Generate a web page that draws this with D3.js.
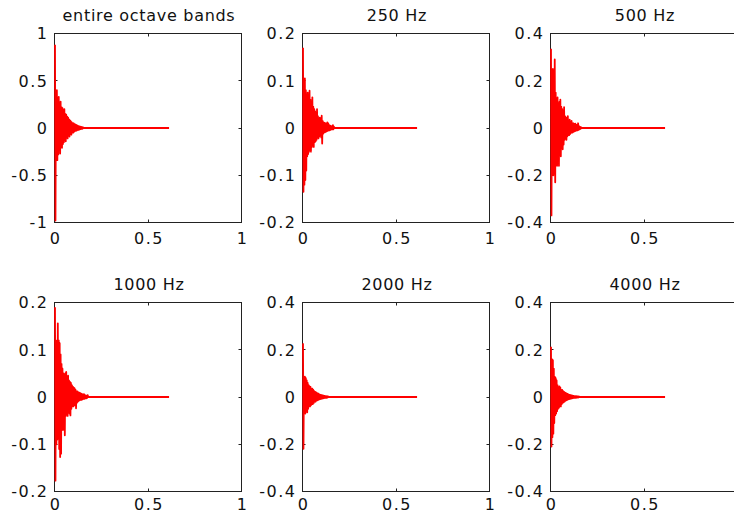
<!DOCTYPE html>
<html>
<head>
<meta charset="utf-8">
<script src="https://cdn.jsdelivr.net/npm/d3@7"></script>
<style>
  html, body { margin: 0; padding: 0; background: #fff; overflow: hidden; }
  svg { display: block; }
  .tick-label { font-family: "DejaVu Sans", sans-serif; font-size: 16px; letter-spacing: 1.5px; fill: #111; }
  .title { font-family: "DejaVu Sans", sans-serif; font-size: 16px; letter-spacing: 0.7px; fill: #111; }
</style>
</head>
<body>
<div id="chart"></div>
<script>
// sample spacing of the impulse responses (s) and where the flat tail stops
const dt = 0.0025;
const tailEnd = 0.61;

const titles = ['entire octave bands', '250 Hz', '500 Hz', '1000 Hz', '2000 Hz', '4000 Hz'];
const yDomains = [[-1, 1], [-0.2, 0.2], [-0.4, 0.4], [-0.2, 0.2], [-0.4, 0.4], [-0.4, 0.4]];
const yTickValues = [
  [-1, -0.5, 0, 0.5, 1],
  [-0.2, -0.1, 0, 0.1, 0.2],
  [-0.4, -0.2, 0, 0.2, 0.4],
  [-0.2, -0.1, 0, 0.1, 0.2],
  [-0.4, -0.2, 0, 0.2, 0.4],
  [-0.4, -0.2, 0, 0.2, 0.4]
];
const xTickValues = [0, 0.5, 1];

// impulse response samples
const bandAll = [0.88, -0.98, 0.38, -0.30, 0.40, -0.34, 0.31, -0.28, 0.33, -0.22, 0.26, -0.27, 0.28, -0.19, 0.22, -0.21,
  0.21, -0.17, 0.19, -0.15, 0.20, -0.13, 0.15, -0.14, 0.14, -0.10, 0.12, -0.11, 0.11, -0.08, 0.09, -0.09,
  0.08, -0.06, 0.07, -0.07, 0.06, -0.05, 0.05, -0.05, 0.05, -0.04, 0.04, -0.03, 0.035, -0.03, 0.03, -0.025,
  0.025, -0.02, 0.02, -0.02, 0.018, -0.015, 0.015, -0.012, 0.012, -0.01, 0.01, -0.008, 0.006, 0];
const band250 = [0.17, -0.135, 0.09, -0.12, 0.105, -0.11, 0.08, -0.09, 0.07, -0.06, 0.075, -0.055, 0.07, -0.05, 0.079, -0.045,
  0.06, -0.05, 0.05, -0.04, 0.065, -0.035, 0.045, -0.04, 0.04, -0.03, 0.035, -0.028, 0.03, -0.025, 0.04, -0.02,
  0.025, -0.022, 0.02, -0.018, 0.022, -0.015, 0.018, -0.02, 0.026, -0.033, 0.015, -0.012, 0.012, -0.01, 0.011, -0.009,
  0.01, -0.008, 0.009, -0.007, 0.012, -0.006, 0.01, -0.005, 0.006, -0.005, 0.005, -0.004, 0.004, -0.003, 0.004, -0.003,
  0.006, -0.003, 0.003, 0];
const band500 = [0.335, -0.37, 0.2, -0.15, 0.25, -0.2, 0.22, -0.18, 0.29, -0.23, 0.15, -0.12, 0.12, -0.16, 0.13, -0.1,
  0.1, -0.16, 0.11, -0.08, 0.12, -0.12, 0.09, -0.07, 0.08, -0.09, 0.06, -0.07, 0.088, -0.05, 0.05, -0.04,
  0.045, -0.05, 0.04, -0.035, 0.05, -0.03, 0.03, -0.03, 0.035, -0.025, 0.025, -0.02, 0.03, -0.02, 0.02, -0.018,
  0.02, -0.015, 0.016, -0.014, 0.018, -0.012, 0.012, -0.01, 0.014, -0.01, 0.02, -0.008, 0.008, -0.006, 0.005, -0.004,
  0.004, 0];
const band1000 = [0.19, -0.177, 0.12, -0.1, 0.11, -0.09, 0.156, -0.08, 0.12, -0.11, 0.114, -0.127, 0.09, -0.12, 0.07, -0.06,
  0.06, -0.07, 0.05, -0.06, 0.045, -0.081, 0.05, -0.04, 0.053, -0.035, 0.04, -0.04, 0.045, -0.03, 0.035, -0.035,
  0.032, -0.039, 0.03, -0.025, 0.025, -0.02, 0.022, -0.02, 0.02, -0.018, 0.018, -0.015, 0.015, -0.024, 0.012, -0.012,
  0.012, -0.01, 0.01, -0.008, 0.009, -0.007, 0.008, -0.006, 0.007, -0.006, 0.006, -0.005, 0.005, -0.004, 0.006, -0.004,
  0.004, -0.003, 0.003, -0.003, 0.003, -0.002, 0.004, 0];
const band2000 = [0.227, -0.219, 0.07, -0.06, 0.086, -0.07, 0.08, -0.05, 0.07, -0.065, 0.06, -0.05, 0.05, -0.04, 0.045, -0.04,
  0.043, -0.035, 0.035, -0.03, 0.035, -0.03, 0.03, -0.025, 0.025, -0.02, 0.022, -0.02, 0.02, -0.015, 0.016, -0.014,
  0.015, -0.012, 0.012, -0.01, 0.01, -0.009, 0.009, -0.008, 0.008, -0.007, 0.007, -0.006, 0.006, -0.005, 0.005, -0.004,
  0.004, -0.004, 0.003, -0.003, 0.003, -0.002, 0.002, 0];
const band4000 = [0.213, -0.21, 0.16, -0.17, 0.156, -0.155, 0.12, -0.11, 0.086, -0.077, 0.08, -0.07, 0.07, -0.06, 0.05, -0.05,
  0.036, -0.045, 0.045, -0.04, 0.04, -0.04, 0.03, -0.03, 0.03, -0.025, 0.025, -0.022, 0.022, -0.02, 0.018, -0.016,
  0.016, -0.014, 0.014, -0.012, 0.012, -0.01, 0.01, -0.009, 0.009, -0.008, 0.008, -0.007, 0.007, -0.006, 0.006, -0.005,
  0.005, -0.004, 0.004, -0.004, 0.004, -0.003, 0.003, -0.003, 0.003, -0.002, 0.002, -0.002, 0.002, 0];

const bands = [bandAll, band250, band500, band1000, band2000, band4000];

const W = 734, H = 515;
const plotW = 187, plotH = 189;
const colX = [54.5, 302.5, 550.5];
const rowY = [33.5, 302.5];
const xLabelGap = [16, 13];   // bottom row sits against the window edge

const svg = d3.select('#chart').append('svg')
  .attr('width', W)
  .attr('height', H);

bands.forEach((values, k) => {
  const col = k % 3, row = Math.floor(k / 3);
  const g = svg.append('g').attr('transform', `translate(${colX[col]},${rowY[row]})`);

  const x = d3.scaleLinear().domain([0, 1]).range([0, plotW]);
  const y = d3.scaleLinear().domain(yDomains[k]).range([plotH, 0]);

  // frame
  g.append('rect')
    .attr('width', plotW)
    .attr('height', plotH)
    .style('fill', 'none')
    .style('stroke', '#222')
    .style('stroke-width', 1);

  // inward ticks, mirrored on the right and top
  const tl = 3;
  yTickValues[k].forEach(v => {
    const yy = Math.round(y(v));
    g.append('line').attr('x1', 0).attr('x2', tl).attr('y1', yy).attr('y2', yy).style('stroke', '#222');
    g.append('line').attr('x1', plotW - tl).attr('x2', plotW).attr('y1', yy).attr('y2', yy).style('stroke', '#222');
    g.append('text')
      .attr('class', 'tick-label')
      .attr('x', -6)
      .attr('y', y(v))
      .attr('dy', '0.36em')
      .attr('text-anchor', 'end')
      .text(v);
  });
  xTickValues.forEach(v => {
    const xx = Math.round(x(v));
    g.append('line').attr('x1', xx).attr('x2', xx).attr('y1', plotH).attr('y2', plotH - tl).style('stroke', '#222');
    g.append('line').attr('x1', xx).attr('x2', xx).attr('y1', 0).attr('y2', tl).style('stroke', '#222');
    // the last column runs past the window edge, so its "1" is not shown
    if (colX[col] + x(v) + 6 > W) return;
    g.append('text')
      .attr('class', 'tick-label')
      .attr('x', x(v) + 1)
      .attr('y', plotH + xLabelGap[row])
      .attr('dy', '0.36em')
      .attr('text-anchor', 'middle')
      .text(v);
  });

  const pts = values.map((v, i) => [i * dt, v]);
  pts.push([tailEnd, 0]);

  g.append('path')
    .datum(pts)
    .attr('d', d3.line().x(d => x(d[0]) + 0.5).y(d => y(d[1])))
    .style('fill', 'none')
    .style('stroke', '#ff0000')
    .style('stroke-width', 1.8)
    .style('stroke-linejoin', 'round');

  g.append('text')
    .attr('class', 'title')
    .attr('x', plotW / 2 + 1)
    .attr('y', -13)
    .attr('text-anchor', 'middle')
    .text(titles[k]);
});
</script>
</body>
</html>
